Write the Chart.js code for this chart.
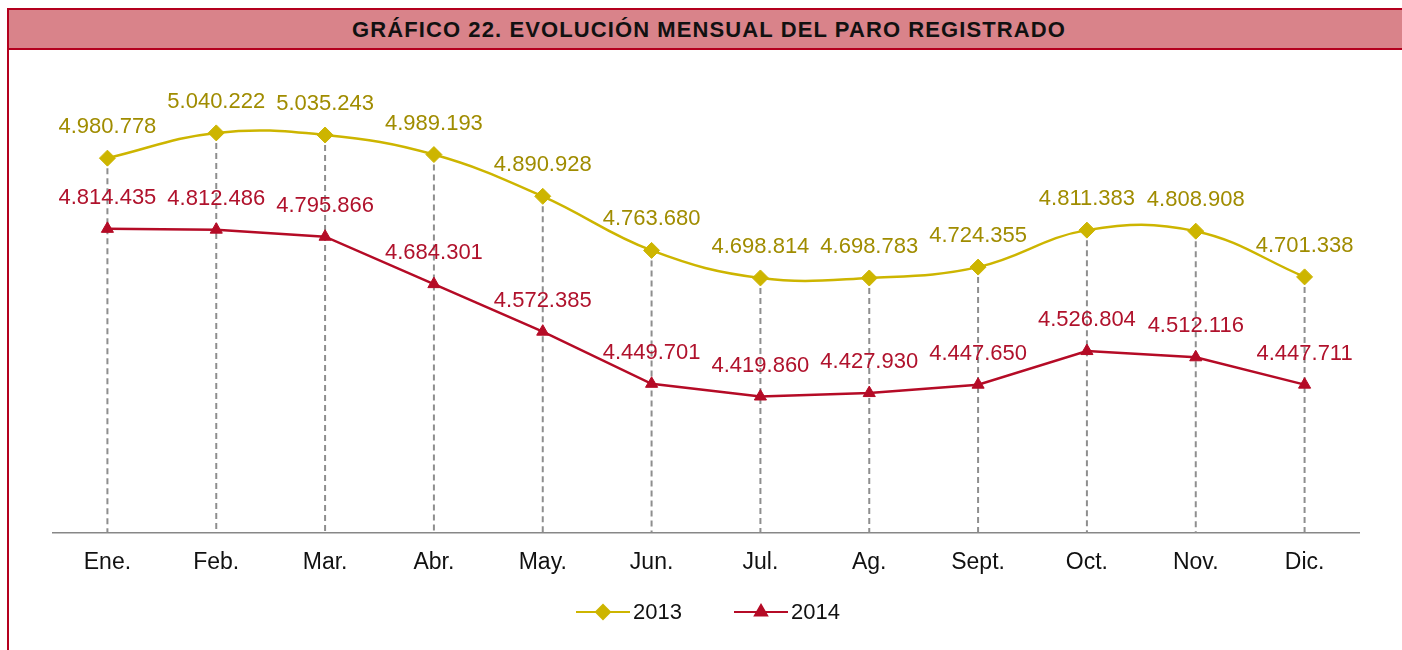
<!DOCTYPE html>
<html>
<head>
<meta charset="utf-8">
<script src="https://cdn.jsdelivr.net/npm/chart.js@4.4.1/dist/chart.umd.min.js"></script>
<style>
    body { margin: 0; background: #fff; font-family: "Liberation Sans", Arial, sans-serif; }
    #frame { position: absolute; left: 7px; top: 8px; width: 1400px; height: 650px; border-left: 2px solid #b4001e; }
    #title { position: absolute; left: 0; top: 0; width: 1400px; height: 38px; background: #d9838a;
             border-top: 2px solid #b4001e; border-bottom: 2px solid #b4001e;
             font-weight: bold; font-size: 22px; letter-spacing: 1.1px; line-height: 40px; text-align: center; color: #111; }
    #wrap { position: absolute; left: 9px; top: 50px; width: 1393px; height: 600px; }
</style>
</head>
<body>
<div id="frame"><div id="title">GRÁFICO 22. EVOLUCIÓN MENSUAL DEL PARO REGISTRADO</div></div>
<div id="wrap"><canvas id="paro-chart"></canvas></div>
<script>
const months = ['Ene.', 'Feb.', 'Mar.', 'Abr.', 'May.', 'Jun.', 'Jul.', 'Ag.', 'Sept.', 'Oct.', 'Nov.', 'Dic.'];
const paro2013 = [4980778, 5040222, 5035243, 4989193, 4890928, 4763680, 4698814, 4698783, 4724355, 4811383, 4808908, 4701338];
const paro2014 = [4814435, 4812486, 4795866, 4684301, 4572385, 4449701, 4419860, 4427930, 4447650, 4526804, 4512116, 4447711];

const color2013 = '#cdb500';
const label2013 = '#a08c00';
const color2014 = '#b50b26';
const label2014 = '#b0122c';

function formatNumber(n) {
    return String(n).replace(/\B(?=(\d{3})+(?!\d))/g, '.');
}

// lineas verticales discontinuas desde cada punto de 2013 hasta el eje
const dropLines = {
    id: 'dropLines',
    beforeDatasetsDraw(chart) {
        const ctx = chart.ctx;
        const meta = chart.getDatasetMeta(0);
        const bottom = chart.chartArea.bottom;
        ctx.save();
        ctx.strokeStyle = '#8e8e8e';
        ctx.lineWidth = 2;
        ctx.setLineDash([6, 4]);
        meta.data.forEach(pt => {
            ctx.beginPath();
            ctx.moveTo(pt.x, pt.y);
            ctx.lineTo(pt.x, bottom);
            ctx.stroke();
        });
        ctx.restore();
    }
};

// etiquetas de valor encima de cada punto
const valueLabels = {
    id: 'valueLabels',
    afterDatasetsDraw(chart) {
        const ctx = chart.ctx;
        ctx.save();
        ctx.font = '22px "Liberation Sans", Arial, sans-serif';
        ctx.textAlign = 'center';
        ctx.textBaseline = 'middle';
        chart.data.datasets.forEach((ds, i) => {
            const meta = chart.getDatasetMeta(i);
            ctx.fillStyle = i === 0 ? label2013 : label2014;
            meta.data.forEach((pt, j) => {
                ctx.fillText(formatNumber(ds.data[j]), pt.x, pt.y - 31);
            });
        });
        ctx.restore();
    }
};

// leyenda con linea y marcador, como en Excel
const lineLegend = {
    id: 'lineLegend',
    afterDraw(chart) {
        const ctx = chart.ctx;
        const y = 562;
        const items = [
            { text: '2013', color: color2013, style: 'rectRot', x: 567 },
            { text: '2014', color: color2014, style: 'triangle', x: 725 }
        ];
        ctx.save();
        ctx.font = '22px "Liberation Sans", Arial, sans-serif';
        ctx.textBaseline = 'middle';
        items.forEach(it => {
            ctx.strokeStyle = it.color;
            ctx.lineWidth = 2;
            ctx.beginPath();
            ctx.moveTo(it.x, y);
            ctx.lineTo(it.x + 54, y);
            ctx.stroke();
            ctx.fillStyle = it.color;
            Chart.helpers.drawPoint(ctx, { pointStyle: it.style, radius: 7, borderWidth: 1 }, it.x + 27, y);
            ctx.fillStyle = '#111';
            ctx.fillText(it.text, it.x + 57, y + 1);
        });
        ctx.restore();
    }
};

new Chart(document.getElementById('paro-chart'), {
    type: 'line',
    data: {
        labels: months,
        datasets: [{
            label: '2013',
            data: paro2013,
            borderColor: color2013,
            backgroundColor: color2013,
            borderWidth: 2.5,
            tension: 0.4,
            pointStyle: 'rectRot',
            pointRadius: 8,
            pointBorderWidth: 1
        }, {
            label: '2014',
            data: paro2014,
            borderColor: color2014,
            backgroundColor: color2014,
            borderWidth: 2.5,
            tension: 0,
            pointStyle: 'triangle',
            pointRadius: 7,
            pointBorderWidth: 1
        }]
    },
    options: {
        responsive: true,
        maintainAspectRatio: false,
        animation: false,
        layout: { padding: { left: 44, right: 43, top: 15, bottom: 58 } },
        scales: {
            y: {
                display: false,
                min: 4100000,
                max: 5200000
            },
            x: {
                offset: true,
                grid: { display: true, drawOnChartArea: false, drawTicks: false },
                border: { display: true, color: '#878787', width: 1.5 },
                ticks: {
                    padding: 16,
                    color: '#111',
                    font: { size: 23, family: '"Liberation Sans", Arial, sans-serif' }
                }
            }
        },
        plugins: {
            legend: { display: false },
            tooltip: { enabled: false }
        }
    },
    plugins: [dropLines, valueLabels, lineLegend]
});
</script>
</body>
</html>
